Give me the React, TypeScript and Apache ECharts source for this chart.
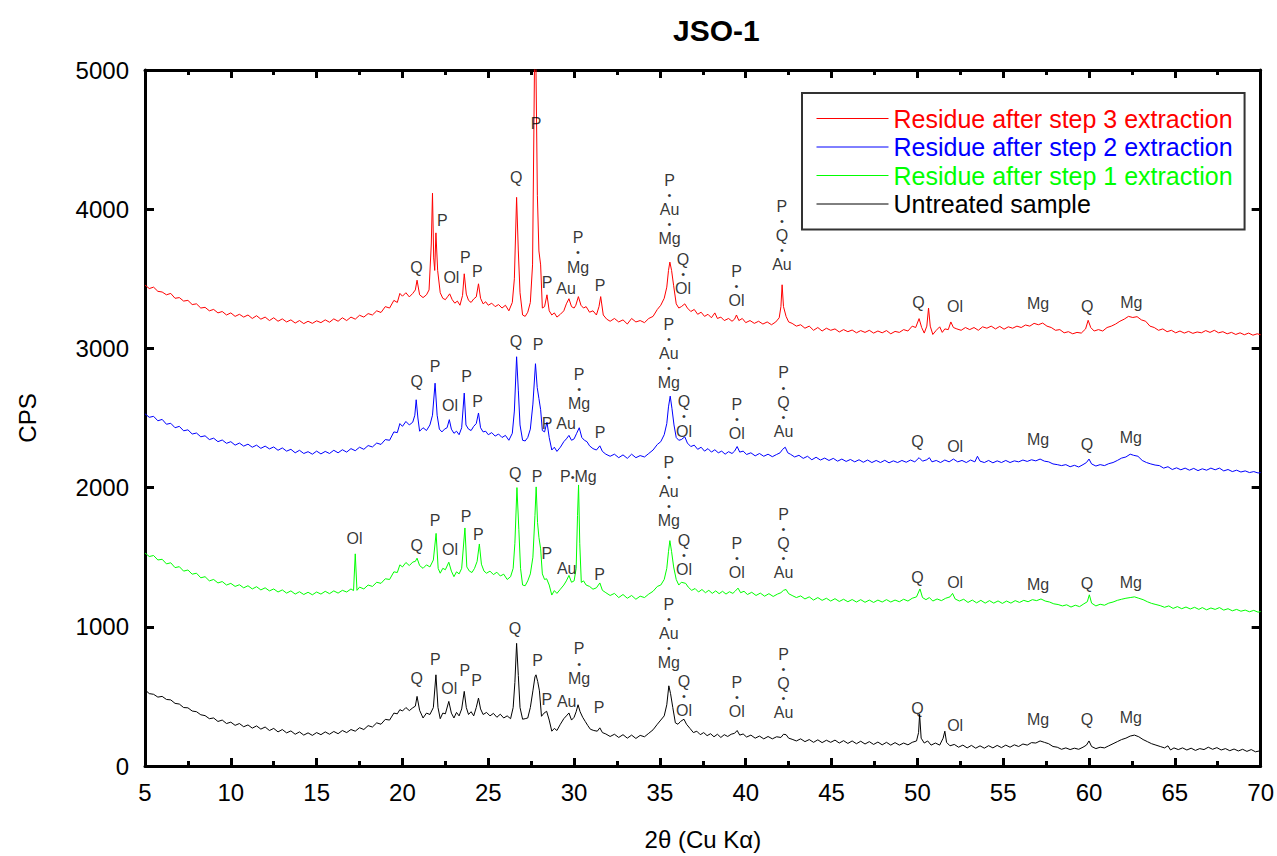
import React, { useEffect, useRef } from "react";
import * as echarts from "echarts";

const FONT = "'Liberation Sans', Arial, sans-serif";

const seriesNames = [
  "Residue after step 3 extraction",
  "Residue after step 2 extraction",
  "Residue after step 1 extraction",
  "Untreated sample",
];
const seriesColors = ["#ff0000", "#0000ff", "#00ff00", "#000000"];

const xTicks = { min: 5, max: 70, interval: 5 };
const yTicks = { min: 0, max: 5000, interval: 1000 };

const step3: [number, number][] = [
[5,3455],[5.25,3430],[5.5,3440],[5.75,3410],[6,3405],[6.25,3385],[6.5,3395],[6.75,3360],[7,3365],[7.25,3340],[7.5,3345],[7.75,3315],[8,3320],[8.25,3290],[8.5,3295],[8.75,3270],[9,3280],[9.25,3255],[9.5,3265],[9.75,3240],[10,3255],[10.25,3230],[10.5,3245],[10.75,3225],[11,3240],[11.25,3215],[11.5,3235],[11.75,3210],[12,3225],[12.25,3200],[12.5,3220],[12.75,3195],[13,3212],[13.25,3190],[13.5,3205],[13.75,3182],[14,3200],[14.25,3178],[14.5,3195],[14.75,3180],[15,3198],[15.25,3185],[15.5,3205],[15.75,3188],[16,3212],[16.25,3195],[16.5,3220],[16.75,3200],[17,3225],[17.25,3210],[17.5,3238],[17.75,3225],[18,3250],[18.25,3240],[18.5,3270],[18.75,3258],[19,3300],[19.25,3290],[19.5,3345],[19.7,3330],[19.85,3395],[20,3375],[20.2,3400],[20.4,3370],[20.6,3395],[20.75,3420],[20.85,3490],[21,3385],[21.2,3365],[21.4,3385],[21.55,3420],[21.68,3750],[21.75,4115],[21.82,3650],[21.88,3560],[21.95,3830],[22.05,3560],[22.2,3400],[22.35,3360],[22.5,3350],[22.65,3375],[22.75,3392],[22.9,3350],[23.05,3325],[23.2,3340],[23.35,3310],[23.5,3380],[23.6,3536],[23.72,3390],[23.85,3345],[24,3330],[24.15,3355],[24.3,3370],[24.43,3464],[24.55,3360],[24.7,3320],[24.85,3335],[25,3310],[25.2,3325],[25.4,3300],[25.6,3315],[25.8,3290],[26,3310],[26.2,3270],[26.4,3330],[26.52,3500],[26.65,4085],[26.75,3700],[26.85,3400],[27,3240],[27.15,3230],[27.3,3260],[27.45,3330],[27.58,3600],[27.66,4600],[27.72,5400],[27.78,5000],[27.86,4100],[27.95,3700],[28.05,3600],[28.15,3290],[28.28,3300],[28.42,3385],[28.55,3270],[28.7,3240],[28.85,3255],[29,3225],[29.2,3245],[29.4,3270],[29.55,3320],[29.7,3357],[29.85,3300],[30,3290],[30.1,3310],[30.25,3372],[30.4,3310],[30.55,3290],[30.7,3300],[30.9,3260],[31.1,3270],[31.3,3240],[31.45,3300],[31.55,3372],[31.7,3240],[31.9,3210],[32.1,3195],[32.35,3215],[32.6,3190],[32.85,3205],[33.1,3175],[33.35,3215],[33.6,3190],[33.85,3200],[34.1,3185],[34.35,3215],[34.6,3230],[34.85,3280],[35.05,3310],[35.25,3360],[35.4,3440],[35.5,3560],[35.58,3620],[35.68,3560],[35.8,3450],[35.95,3320],[36.1,3290],[36.25,3300],[36.45,3320],[36.6,3290],[36.8,3265],[37,3280],[37.2,3245],[37.4,3260],[37.6,3230],[37.8,3245],[38,3220],[38.2,3255],[38.35,3215],[38.55,3225],[38.75,3200],[39,3215],[39.2,3195],[39.35,3210],[39.46,3240],[39.6,3200],[39.8,3215],[40,3185],[40.25,3200],[40.5,3180],[40.75,3195],[41,3175],[41.25,3190],[41.5,3170],[41.75,3190],[41.95,3220],[42.05,3300],[42.12,3457],[42.2,3300],[42.35,3230],[42.5,3190],[42.7,3180],[42.95,3160],[43.2,3170],[43.45,3145],[43.7,3160],[43.95,3130],[44.2,3150],[44.45,3125],[44.7,3145],[44.95,3130],[45.2,3140],[45.45,3118],[45.7,3135],[45.95,3120],[46.2,3132],[46.45,3112],[46.7,3128],[46.95,3115],[47.2,3130],[47.45,3110],[47.7,3125],[47.95,3112],[48.2,3128],[48.45,3105],[48.7,3122],[48.95,3115],[49.2,3135],[49.45,3125],[49.7,3160],[49.9,3150],[50.1,3214],[50.25,3150],[50.4,3110],[50.55,3160],[50.65,3290],[50.75,3160],[50.9,3100],[51.1,3130],[51.3,3155],[51.45,3115],[51.6,3140],[51.8,3135],[51.95,3190],[52.1,3150],[52.3,3140],[52.55,3130],[52.8,3150],[53.05,3135],[53.3,3150],[53.55,3130],[53.8,3155],[54.05,3145],[54.3,3160],[54.55,3140],[54.8,3158],[55.05,3138],[55.3,3155],[55.55,3145],[55.8,3160],[56.05,3150],[56.3,3168],[56.55,3160],[56.8,3180],[57.05,3170],[57.3,3182],[57.55,3160],[57.8,3150],[58.05,3130],[58.3,3135],[58.55,3112],[58.8,3120],[59.05,3105],[59.3,3115],[59.55,3110],[59.8,3140],[59.95,3202],[60.1,3150],[60.3,3125],[60.55,3135],[60.8,3125],[61.05,3150],[61.3,3160],[61.55,3175],[61.8,3195],[62.05,3210],[62.3,3230],[62.55,3222],[62.8,3228],[63.05,3205],[63.3,3195],[63.55,3160],[63.8,3150],[64.05,3130],[64.3,3140],[64.55,3120],[64.8,3130],[65.05,3112],[65.3,3125],[65.55,3110],[65.8,3122],[66.05,3108],[66.3,3118],[66.55,3112],[66.8,3128],[67.05,3115],[67.3,3130],[67.55,3112],[67.8,3120],[68.05,3105],[68.3,3115],[68.55,3100],[68.8,3112],[69.05,3098],[69.3,3110],[69.55,3095],[69.8,3105],[70,3098]
];

const step2: [number, number][] = [
[5,2530],[5.25,2505],[5.5,2512],[5.75,2480],[6,2490],[6.25,2455],[6.5,2462],[6.75,2430],[7,2440],[7.25,2408],[7.5,2415],[7.75,2385],[8,2392],[8.25,2365],[8.5,2372],[8.75,2345],[9,2355],[9.25,2330],[9.5,2342],[9.75,2318],[10,2330],[10.25,2305],[10.5,2320],[10.75,2298],[11,2312],[11.25,2290],[11.5,2305],[11.75,2282],[12,2298],[12.25,2278],[12.5,2292],[12.75,2268],[13,2285],[13.25,2262],[13.5,2275],[13.75,2250],[14,2268],[14.25,2245],[14.5,2258],[14.75,2240],[15,2262],[15.25,2242],[15.5,2260],[15.75,2245],[16,2268],[16.25,2250],[16.5,2272],[16.75,2255],[17,2280],[17.25,2265],[17.5,2290],[17.75,2275],[18,2302],[18.25,2292],[18.5,2320],[18.75,2310],[19,2345],[19.25,2340],[19.5,2400],[19.7,2395],[19.85,2460],[20,2440],[20.2,2475],[20.4,2450],[20.6,2470],[20.72,2520],[20.8,2631],[20.9,2500],[21,2405],[21.2,2430],[21.4,2410],[21.6,2450],[21.75,2520],[21.9,2750],[22.02,2520],[22.15,2420],[22.3,2400],[22.45,2420],[22.6,2430],[22.73,2488],[22.85,2420],[23,2390],[23.15,2405],[23.3,2380],[23.45,2430],[23.6,2679],[23.7,2450],[23.85,2420],[24,2410],[24.15,2440],[24.3,2460],[24.43,2536],[24.55,2430],[24.7,2400],[24.85,2405],[25,2380],[25.2,2395],[25.4,2370],[25.6,2385],[25.8,2360],[26,2375],[26.2,2340],[26.4,2390],[26.52,2550],[26.65,2940],[26.75,2700],[26.85,2450],[27,2340],[27.15,2335],[27.3,2360],[27.45,2420],[27.6,2600],[27.75,2890],[27.85,2720],[27.95,2640],[28.05,2560],[28.15,2410],[28.28,2400],[28.42,2470],[28.55,2360],[28.7,2270],[28.85,2290],[29,2260],[29.2,2290],[29.4,2330],[29.55,2350],[29.7,2375],[29.85,2340],[30,2350],[30.15,2390],[30.3,2430],[30.45,2360],[30.6,2340],[30.75,2330],[30.9,2300],[31.1,2280],[31.3,2270],[31.5,2300],[31.65,2260],[31.85,2240],[32.1,2225],[32.35,2240],[32.6,2215],[32.85,2235],[33.1,2210],[33.35,2240],[33.6,2215],[33.85,2230],[34.1,2220],[34.35,2245],[34.6,2270],[34.85,2310],[35.05,2330],[35.25,2380],[35.4,2460],[35.5,2580],[35.6,2657],[35.7,2570],[35.82,2450],[35.95,2360],[36.1,2340],[36.25,2345],[36.45,2365],[36.6,2320],[36.8,2295],[37,2305],[37.2,2275],[37.4,2290],[37.6,2262],[37.8,2280],[38,2255],[38.2,2272],[38.4,2250],[38.6,2262],[38.8,2240],[39,2258],[39.2,2245],[39.35,2262],[39.5,2295],[39.65,2255],[39.85,2262],[40.05,2238],[40.3,2250],[40.55,2228],[40.8,2245],[41.05,2225],[41.3,2240],[41.55,2222],[41.8,2238],[42,2250],[42.15,2275],[42.3,2290],[42.45,2250],[42.6,2240],[42.85,2220],[43.1,2232],[43.35,2210],[43.6,2225],[43.85,2200],[44.1,2218],[44.35,2198],[44.6,2212],[44.85,2195],[45.1,2210],[45.35,2190],[45.6,2205],[45.85,2188],[46.1,2202],[46.35,2185],[46.6,2200],[46.85,2182],[47.1,2198],[47.35,2180],[47.6,2195],[47.85,2180],[48.1,2196],[48.35,2178],[48.6,2192],[48.85,2180],[49.1,2195],[49.35,2182],[49.6,2198],[49.85,2185],[50.1,2215],[50.3,2190],[50.55,2200],[50.7,2215],[50.85,2185],[51.1,2195],[51.35,2180],[51.6,2198],[51.85,2185],[52.1,2205],[52.35,2185],[52.6,2195],[52.85,2180],[53.1,2198],[53.35,2185],[53.5,2225],[53.65,2190],[53.9,2180],[54.15,2195],[54.4,2178],[54.65,2192],[54.9,2180],[55.15,2195],[55.4,2180],[55.65,2192],[55.9,2185],[56.15,2198],[56.4,2188],[56.65,2200],[56.9,2192],[57.15,2205],[57.4,2190],[57.65,2185],[57.9,2170],[58.15,2165],[58.4,2158],[58.65,2165],[58.9,2150],[59.15,2160],[59.4,2148],[59.65,2165],[59.85,2180],[60,2205],[60.15,2170],[60.4,2155],[60.65,2165],[60.9,2158],[61.15,2172],[61.4,2180],[61.65,2195],[61.9,2212],[62.15,2220],[62.4,2240],[62.6,2232],[62.85,2225],[63.1,2195],[63.35,2180],[63.6,2170],[63.85,2162],[64.1,2158],[64.35,2140],[64.6,2150],[64.85,2130],[65.1,2142],[65.35,2128],[65.6,2140],[65.85,2125],[66.1,2138],[66.35,2122],[66.6,2135],[66.85,2125],[67.1,2140],[67.35,2128],[67.6,2140],[67.85,2120],[68.1,2130],[68.35,2115],[68.6,2125],[68.85,2112],[69.1,2120],[69.35,2108],[69.6,2115],[69.85,2105],[70,2108]
];

const step1: [number, number][] = [
[5,1530],[5.25,1505],[5.5,1512],[5.75,1480],[6,1485],[6.25,1452],[6.5,1460],[6.75,1425],[7,1432],[7.25,1400],[7.5,1408],[7.75,1378],[8,1385],[8.25,1352],[8.5,1360],[8.75,1330],[9,1340],[9.25,1315],[9.5,1325],[9.75,1300],[10,1312],[10.25,1290],[10.5,1302],[10.75,1280],[11,1295],[11.25,1272],[11.5,1288],[11.75,1265],[12,1280],[12.25,1258],[12.5,1272],[12.75,1250],[13,1265],[13.25,1242],[13.5,1258],[13.75,1235],[14,1252],[14.25,1232],[14.5,1248],[14.75,1230],[15,1250],[15.25,1235],[15.5,1255],[15.75,1238],[16,1258],[16.25,1242],[16.5,1262],[16.75,1250],[17,1272],[17.15,1260],[17.25,1524],[17.35,1262],[17.5,1285],[17.75,1272],[18,1300],[18.25,1290],[18.5,1320],[18.75,1312],[19,1345],[19.25,1340],[19.5,1395],[19.7,1390],[19.85,1445],[20,1430],[20.2,1462],[20.4,1440],[20.6,1465],[20.75,1470],[20.85,1493],[21,1440],[21.2,1420],[21.4,1445],[21.6,1430],[21.8,1480],[21.96,1671],[22.08,1420],[22.2,1385],[22.35,1420],[22.5,1410],[22.7,1464],[22.85,1400],[23,1360],[23.15,1395],[23.3,1380],[23.45,1420],[23.64,1710],[23.75,1430],[23.9,1400],[24.05,1390],[24.2,1420],[24.35,1470],[24.48,1595],[24.6,1450],[24.75,1400],[24.9,1385],[25.1,1400],[25.3,1375],[25.5,1392],[25.7,1365],[25.9,1378],[26.1,1340],[26.3,1360],[26.45,1420],[26.55,1600],[26.67,2000],[26.78,1700],[26.88,1420],[27,1300],[27.15,1295],[27.3,1330],[27.45,1380],[27.6,1500],[27.72,1800],[27.79,2005],[27.87,1750],[27.95,1643],[28.05,1560],[28.15,1380],[28.28,1340],[28.4,1345],[28.55,1300],[28.7,1228],[28.85,1260],[29,1240],[29.2,1270],[29.4,1300],[29.55,1330],[29.7,1369],[29.85,1320],[30,1330],[30.12,1420],[30.2,1800],[30.26,2019],[30.33,1600],[30.42,1319],[30.55,1330],[30.7,1300],[30.9,1290],[31.1,1270],[31.3,1280],[31.5,1315],[31.65,1262],[31.85,1245],[32.1,1225],[32.35,1240],[32.6,1210],[32.85,1232],[33.1,1205],[33.35,1225],[33.6,1198],[33.85,1220],[34.1,1210],[34.35,1235],[34.6,1255],[34.85,1290],[35.05,1300],[35.25,1340],[35.4,1420],[35.5,1540],[35.58,1619],[35.68,1540],[35.8,1430],[35.95,1340],[36.1,1300],[36.25,1320],[36.5,1312],[36.65,1285],[36.85,1262],[37.05,1275],[37.25,1250],[37.45,1268],[37.65,1245],[37.85,1262],[38.05,1240],[38.25,1258],[38.45,1238],[38.65,1255],[38.85,1235],[39.05,1252],[39.25,1240],[39.4,1258],[39.55,1278],[39.7,1245],[39.9,1255],[40.1,1232],[40.35,1248],[40.6,1225],[40.85,1242],[41.1,1220],[41.35,1238],[41.6,1218],[41.85,1235],[42.05,1245],[42.2,1262],[42.35,1268],[42.5,1238],[42.7,1225],[42.95,1210],[43.2,1222],[43.45,1200],[43.7,1215],[43.95,1192],[44.2,1210],[44.45,1190],[44.7,1205],[44.95,1185],[45.2,1202],[45.45,1182],[45.7,1198],[45.95,1180],[46.2,1196],[46.45,1178],[46.7,1195],[46.95,1176],[47.2,1192],[47.45,1175],[47.7,1192],[47.95,1178],[48.2,1195],[48.45,1178],[48.7,1192],[48.95,1180],[49.2,1198],[49.45,1185],[49.7,1205],[49.95,1215],[50.15,1272],[50.3,1210],[50.5,1195],[50.7,1210],[50.9,1185],[51.15,1200],[51.4,1188],[51.65,1205],[51.9,1215],[52.05,1240],[52.2,1200],[52.45,1185],[52.7,1198],[52.95,1175],[53.2,1192],[53.45,1172],[53.7,1190],[53.95,1170],[54.2,1188],[54.45,1170],[54.7,1186],[54.95,1168],[55.2,1185],[55.45,1170],[55.7,1188],[55.95,1175],[56.2,1190],[56.45,1180],[56.7,1195],[56.95,1188],[57.2,1200],[57.45,1185],[57.7,1178],[57.95,1165],[58.2,1160],[58.45,1150],[58.7,1158],[58.95,1142],[59.2,1155],[59.45,1145],[59.7,1165],[59.9,1180],[60.02,1230],[60.15,1170],[60.4,1150],[60.65,1162],[60.9,1155],[61.15,1170],[61.4,1178],[61.65,1190],[61.9,1198],[62.15,1205],[62.4,1210],[62.65,1215],[62.9,1205],[63.15,1195],[63.4,1180],[63.65,1168],[63.9,1160],[64.15,1152],[64.4,1140],[64.65,1150],[64.9,1132],[65.15,1145],[65.4,1130],[65.65,1142],[65.9,1128],[66.15,1140],[66.4,1125],[66.6,1138],[66.85,1122],[67.1,1135],[67.35,1125],[67.6,1138],[67.85,1120],[68.1,1130],[68.35,1115],[68.6,1125],[68.85,1112],[69.1,1120],[69.35,1108],[69.6,1118],[69.85,1105],[70,1110]
];

const untreated: [number, number][] = [
[5,560],[5.1,536],[5.25,520],[5.5,515],[5.75,495],[6,500],[6.25,478],[6.5,475],[6.75,450],[7,445],[7.25,420],[7.5,418],[7.75,395],[8,390],[8.25,368],[8.5,362],[8.75,340],[9,345],[9.25,320],[9.5,330],[9.75,305],[10,315],[10.25,292],[10.5,305],[10.75,282],[11,295],[11.25,272],[11.5,288],[11.75,265],[12,280],[12.25,255],[12.5,270],[12.75,245],[13,262],[13.25,238],[13.5,252],[13.75,228],[14,245],[14.25,222],[14.5,238],[14.75,220],[15,240],[15.25,225],[15.5,245],[15.75,228],[16,248],[16.25,232],[16.5,255],[16.75,240],[17,262],[17.25,250],[17.5,275],[17.75,262],[18,290],[18.25,280],[18.5,310],[18.75,300],[19,335],[19.25,330],[19.5,380],[19.7,375],[19.85,405],[20,395],[20.2,420],[20.4,398],[20.6,418],[20.75,430],[20.85,500],[21,400],[21.2,345],[21.4,380],[21.6,370],[21.8,420],[21.95,655],[22.07,420],[22.2,340],[22.35,380],[22.5,375],[22.7,464],[22.85,380],[23,345],[23.15,385],[23.3,360],[23.45,410],[23.6,536],[23.72,420],[23.85,370],[24,390],[24.15,360],[24.3,420],[24.43,488],[24.55,410],[24.7,370],[24.9,385],[25.1,360],[25.3,378],[25.5,350],[25.7,372],[25.9,345],[26.1,360],[26.3,340],[26.45,420],[26.55,600],[26.65,881],[26.75,650],[26.85,420],[27,336],[27.15,340],[27.3,345],[27.45,420],[27.6,540],[27.72,640],[27.78,655],[27.88,607],[27.98,540],[28.1,357],[28.25,380],[28.4,393],[28.55,330],[28.7,250],[28.85,270],[29,255],[29.2,300],[29.4,340],[29.55,360],[29.7,381],[29.85,330],[30,350],[30.12,390],[30.23,440],[30.35,390],[30.5,350],[30.65,320],[30.8,290],[30.95,264],[31.15,255],[31.35,250],[31.5,274],[31.65,240],[31.85,230],[32.1,212],[32.35,228],[32.6,205],[32.85,225],[33.1,200],[33.35,222],[33.6,198],[33.85,220],[34.1,210],[34.35,235],[34.6,260],[34.85,300],[35.05,330],[35.25,360],[35.4,440],[35.52,576],[35.62,520],[35.75,420],[35.9,310],[36.05,300],[36.2,320],[36.4,336],[36.55,300],[36.75,270],[36.95,240],[37.15,250],[37.35,225],[37.55,240],[37.75,218],[37.95,232],[38.15,210],[38.35,228],[38.55,205],[38.75,225],[38.95,212],[39.15,228],[39.35,235],[39.5,255],[39.65,222],[39.85,230],[40.05,208],[40.3,222],[40.55,200],[40.8,215],[41.05,195],[41.3,212],[41.55,195],[41.8,210],[42.05,205],[42.2,228],[42.35,225],[42.5,200],[42.7,192],[42.95,180],[43.2,195],[43.45,175],[43.7,190],[43.95,170],[44.2,188],[44.45,168],[44.7,185],[44.95,170],[45.2,186],[45.45,165],[45.7,182],[45.95,162],[46.2,180],[46.45,160],[46.7,178],[46.95,158],[47.2,175],[47.45,155],[47.7,172],[47.95,152],[48.2,170],[48.45,150],[48.7,168],[48.95,150],[49.2,165],[49.45,152],[49.7,170],[49.95,180],[50.07,240],[50.13,371],[50.22,200],[50.4,165],[50.6,180],[50.8,150],[51.05,165],[51.3,150],[51.5,200],[51.6,250],[51.7,170],[51.9,145],[52.15,155],[52.4,135],[52.65,150],[52.9,130],[53.15,148],[53.4,128],[53.65,145],[53.9,128],[54.15,146],[54.4,130],[54.65,148],[54.9,132],[55.15,150],[55.4,135],[55.65,152],[55.9,140],[56.15,158],[56.4,150],[56.65,168],[56.9,165],[57.15,180],[57.4,170],[57.65,160],[57.9,140],[58.15,135],[58.4,120],[58.65,130],[58.9,118],[59.15,128],[59.4,120],[59.65,135],[59.85,150],[60,180],[60.15,140],[60.4,125],[60.65,135],[60.9,130],[61.15,145],[61.4,160],[61.65,175],[61.9,190],[62.15,200],[62.4,215],[62.65,222],[62.9,210],[63.15,190],[63.4,175],[63.65,160],[63.9,150],[64.15,140],[64.4,130],[64.6,145],[64.75,115],[64.95,130],[65.2,118],[65.45,130],[65.7,115],[65.95,128],[66.2,112],[66.45,125],[66.7,118],[66.95,135],[67.2,120],[67.45,132],[67.7,115],[67.95,125],[68.2,110],[68.45,122],[68.7,108],[68.95,120],[69.2,105],[69.45,118],[69.7,102],[70,110]
];

type Ann = [number, number, string[]];

const step3Labels: Ann[] = [
  [27.79, 4614, ["P"]], [26.63, 4229, ["Q"]], [22.33, 3921, ["P"]], [20.81, 3579, ["Q"]],
  [22.85, 3507, ["Ol"]], [23.66, 3650, ["P"]], [24.36, 3550, ["P"]], [28.43, 3471, ["P"]],
  [29.53, 3429, ["Au"]], [30.23, 3689, ["P", "Mg"]], [31.51, 3450, ["P"]],
  [35.56, 4000, ["P", "Au", "Mg"]], [36.35, 3536, ["Q", "Ol"]], [39.46, 3450, ["P", "Ol"]],
  [42.11, 3811, ["P", "Q", "Au"]], [50.06, 3333, ["Q"]], [52.19, 3298, ["Ol"]],
  [57.03, 3321, ["Mg"]], [59.9, 3298, ["Q"]], [62.46, 3333, ["Mg"]],
];
const step2Labels: Ann[] = [
  [20.83, 2762, ["Q"]], [21.9, 2869, ["P"]], [22.77, 2590, ["Ol"]], [23.74, 2798, ["P"]],
  [24.38, 2619, ["P"]], [26.61, 3048, ["Q"]], [27.9, 3029, ["P"]], [28.43, 2457, ["P"]],
  [29.53, 2464, ["Au"]], [30.29, 2711, ["P", "Mg"]], [31.51, 2393, ["P"]],
  [35.52, 2964, ["P", "Au", "Mg"]], [36.4, 2511, ["Q", "Ol"]], [39.48, 2493, ["P", "Ol"]],
  [42.2, 2614, ["P", "Q", "Au"]], [50.0, 2329, ["Q"]], [52.2, 2293, ["Ol"]],
  [57.03, 2343, ["Mg"]], [59.88, 2307, ["Q"]], [62.44, 2357, ["Mg"]],
];
const step1Labels: Ann[] = [
  [17.21, 1636, ["Ol"]], [20.83, 1583, ["Q"]], [21.9, 1767, ["P"]], [22.77, 1555, ["Ol"]],
  [23.7, 1790, ["P"]], [24.42, 1662, ["P"]], [26.57, 2100, ["Q"]], [27.85, 2079, ["P"]],
  [30.25, 2079, ["P•Mg"]], [28.41, 1524, ["P"]], [29.57, 1421, ["Au"]], [31.49, 1374, ["P"]],
  [35.52, 1971, ["P", "Au", "Mg"]], [36.4, 1514, ["Q", "Ol"]], [39.48, 1493, ["P", "Ol"]],
  [42.2, 1600, ["P", "Q", "Au"]], [50.0, 1357, ["Q"]], [52.2, 1321, ["Ol"]],
  [57.03, 1307, ["Mg"]], [59.88, 1314, ["Q"]], [62.44, 1321, ["Mg"]],
];
const untreatedLabels: Ann[] = [
  [20.83, 631, ["Q"]], [21.92, 762, ["P"]], [22.73, 560, ["Ol"]], [23.64, 686, ["P"]],
  [24.32, 614, ["P"]], [26.55, 988, ["Q"]], [27.87, 755, ["P"]], [28.41, 476, ["P"]],
  [29.57, 464, ["Au"]], [30.29, 736, ["P", "Mg"]], [31.45, 417, ["P"]],
  [35.52, 954, ["P", "Au", "Mg"]], [36.4, 504, ["Q", "Ol"]], [39.48, 496, ["P", "Ol"]],
  [42.2, 593, ["P", "Q", "Au"]], [50.0, 414, ["Q"]], [52.2, 293, ["Ol"]],
  [57.03, 336, ["Mg"]], [59.88, 336, ["Q"]], [62.44, 350, ["Mg"]],
];

function richText(parts: string[]): string {
  return parts
    .map((p) =>
      p.includes("•")
        ? p.split("•").map((s) => `{t|${s}}`).join("{d|•}")
        : `{t|${p}}`
    )
    .join("\n{d|•}\n");
}

export default function App() {
  const ref = useRef<HTMLDivElement>(null);
  useEffect(() => {
    if (!ref.current) return;
    const chart = echarts.init(ref.current, undefined, { renderer: "svg" });
    const allLabels = [...step3Labels, ...step2Labels, ...step1Labels, ...untreatedLabels];
    const axisLineStyle = { color: "#000", width: 3 };
    const lineData = [step3, step2, step1, untreated];
    const option: any = {
      animation: false,
      textStyle: { fontFamily: FONT },
      title: {
        text: "JSO-1",
        left: 668,
        top: 10,
        textStyle: { fontSize: 30, fontWeight: "bold", color: "#000", fontFamily: FONT },
      },
      legend: {
        orient: "vertical",
        left: 802,
        top: 93,
        data: seriesNames.map((n, i) => ({ name: n, textStyle: { color: seriesColors[i] } })),
        itemWidth: 72,
        itemHeight: 2,
        itemGap: 3.5,
        itemStyle: { opacity: 0, borderWidth: 0 },
        lineStyle: { width: 1 },
        padding: [13, 12, 13, 14],
        borderColor: "#333",
        borderWidth: 2,
        textStyle: { fontSize: 25, lineHeight: 24, fontFamily: FONT },
      },
      grid: { left: 145, right: 14, top: 70, bottom: 86, containLabel: false },
      xAxis: [
        {
          type: "value",
          position: "bottom",
          ...xTicks,
          name: "2θ (Cu Kα)",
          nameLocation: "middle",
          nameGap: 61,
          nameTextStyle: { fontSize: 24, color: "#000", fontFamily: FONT },
          axisLine: { onZero: false, lineStyle: axisLineStyle },
          axisTick: { inside: true, length: 8, lineStyle: { color: "#000", width: 3 } },
          minorTick: { show: true, splitNumber: 2, length: 5, lineStyle: { color: "#000", width: 3 } },
          axisLabel: { fontSize: 24, color: "#000", margin: 14, fontFamily: FONT },
          splitLine: { show: false },
        },
        {
          type: "value",
          position: "top",
          ...xTicks,
          axisLine: { onZero: false, lineStyle: axisLineStyle },
          axisTick: { inside: true, length: 8, lineStyle: { color: "#000", width: 3 } },
          minorTick: { show: true, splitNumber: 2, length: 5, lineStyle: { color: "#000", width: 3 } },
          axisLabel: { show: false },
          splitLine: { show: false },
        },
      ],
      yAxis: [
        {
          type: "value",
          position: "left",
          ...yTicks,
          name: "CPS",
          nameLocation: "middle",
          nameGap: 106,
          nameTextStyle: { fontSize: 24, color: "#000", fontFamily: FONT },
          axisLine: { show: true, onZero: false, lineStyle: axisLineStyle },
          axisTick: { show: true, inside: true, length: 9, lineStyle: { color: "#000", width: 3 } },
          axisLabel: {
            fontSize: 24,
            color: "#000",
            margin: 16,
            fontFamily: FONT,
            formatter: (v: number) => String(v),
          },
          splitLine: { show: false },
        },
        {
          type: "value",
          position: "right",
          ...yTicks,
          axisLine: { show: true, onZero: false, lineStyle: axisLineStyle },
          axisTick: { show: true, inside: true, length: 9, lineStyle: { color: "#000", width: 3 } },
          axisLabel: { show: false },
          splitLine: { show: false },
        },
      ],
      series: [
        ...lineData.map((d, i) => ({
          name: seriesNames[i],
          type: "line",
          data: d,
          symbol: "none",
          showSymbol: false,
          clip: true,
          lineStyle: { color: seriesColors[i], width: 1 },
          itemStyle: { color: seriesColors[i] },
          z: 2 + (3 - i),
          silent: true,
        })),
        {
          name: "labels",
          type: "scatter",
          symbol: "circle",
          symbolSize: 1,
          silent: true,
          z: 10,
          itemStyle: { color: "rgba(0,0,0,0)" },
          data: allLabels.map(([x, y, parts]) => ({ value: [x, y], txt: richText(parts) })),
          label: {
            show: true,
            position: "inside",
            formatter: (p: any) => p.data.txt,
            rich: {
              t: { fontSize: 16, lineHeight: 14.6, color: "#000", fontFamily: FONT },
              d: { fontSize: 11, lineHeight: 14.6, color: "#000", fontFamily: FONT },
            },
          },
        },
      ],
    };
    chart.setOption(option);
    return () => chart.dispose();
  }, []);
  return (
    <div
      ref={ref}
      style={{ position: "fixed", left: 0, top: 0, width: 1277, height: 856, background: "#fff" }}
    />
  );
}
